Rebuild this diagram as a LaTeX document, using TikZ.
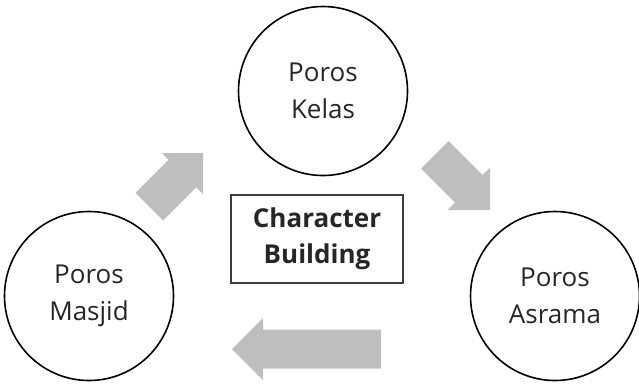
\documentclass[tikz,border=0pt]{standalone}
\usepackage{fontspec}
\setmainfont{Open Sans}
\definecolor{arrowgray}{RGB}{189,190,192}
\definecolor{boxline}{RGB}{60,60,60}
\begin{document}
\begin{tikzpicture}[x=1pt,y=-1pt,
  poros/.style={circle,draw=black,line width=1.6pt,minimum size=169pt,inner sep=0pt,
    align=center,font=\fontsize{26}{37}\selectfont,text=black!85},
  titlebox/.style={draw=boxline,line width=1.3pt,minimum width=172pt,minimum height=88pt,
    align=center,font=\fontsize{26}{36}\selectfont\bfseries,text=black!85},
  blockarrow/.style={fill=arrowgray,draw=none}]
\useasboundingbox (0,0) rectangle (639,384);
\node[poros] (kelas) at (323,91) {Poros\\Kelas};
\node[poros] (masjid) at (89,296) {Poros\\Masjid};
\node[poros] (asrama) at (555,296) {Poros\\Asrama};
\node[titlebox] (cb) at (317,239) {Character\\Building};
% up-right arrow
\fill[blockarrow] (203,153) -- (203,194) -- (196.3,187.3) -- (163.1,220.5)
  -- (135.5,192.9) -- (168.7,159.7) -- (162,153) -- cycle;
% down-right arrow
\fill[blockarrow] (490,210) -- (447.6,210) -- (455,202.6) -- (421,168.6)
  -- (448.6,141) -- (482.6,175) -- (490,167.6) -- cycle;
% left arrow
\fill[blockarrow] (232,349) -- (263,318) -- (263,329.5) -- (381,329.5)
  -- (381,368.5) -- (263,368.5) -- (263,380) -- cycle;
\end{tikzpicture}
\end{document}
